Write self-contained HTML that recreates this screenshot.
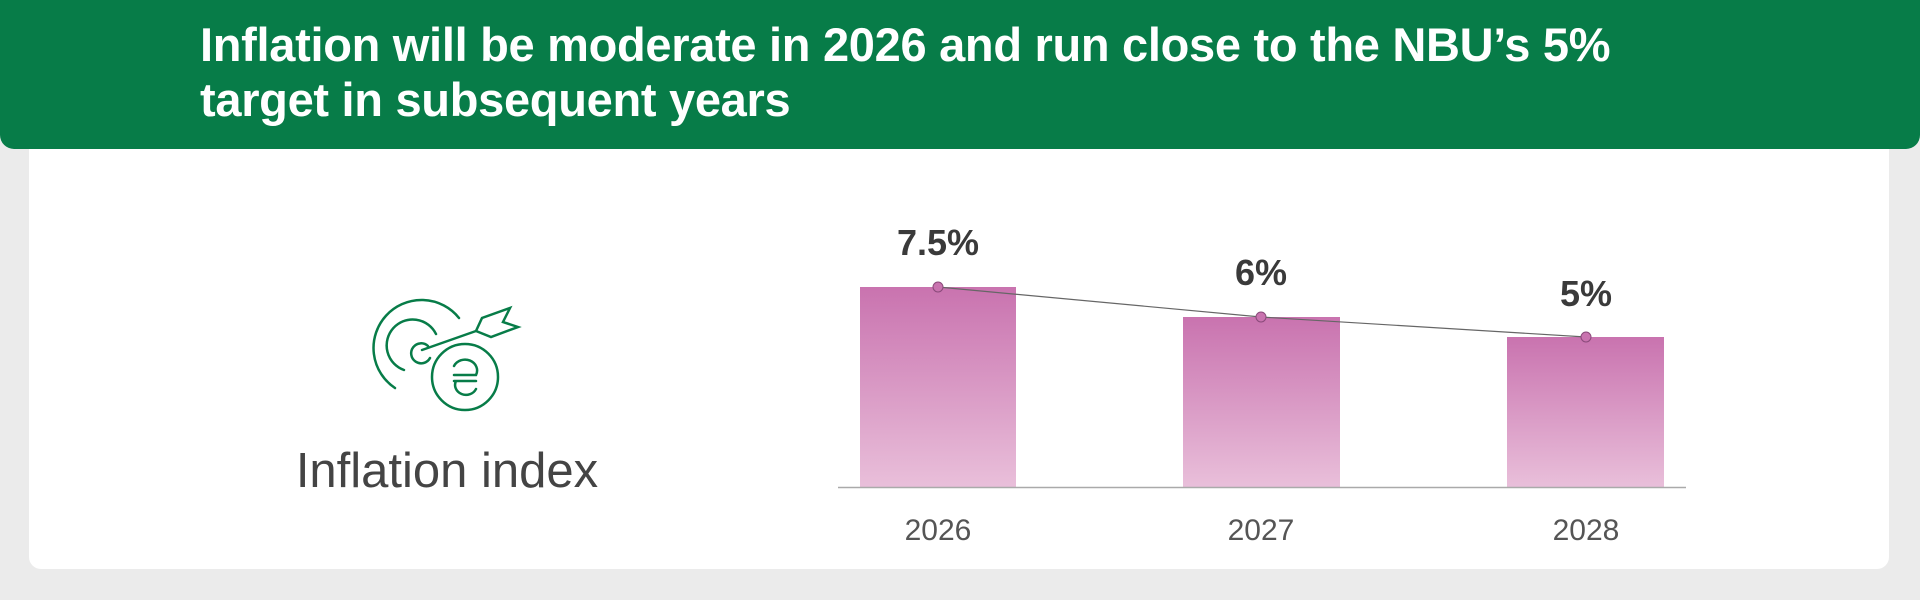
<!DOCTYPE html>
<html><head><meta charset="utf-8"><style>
html,body{margin:0;padding:0;}
body{width:1920px;height:600px;background:#ebebeb;position:relative;overflow:hidden;font-family:"Liberation Sans",sans-serif;}
.card{position:absolute;left:29px;top:120px;width:1860px;height:449px;background:#fff;border-radius:12px;}
.hdr{position:absolute;left:0;top:0;width:1920px;height:149px;background:#077c48;border-radius:0 0 14px 14px;}
.title{position:absolute;left:200px;top:17px;color:#fff;font-weight:bold;font-size:47px;line-height:55px;letter-spacing:-0.3px;white-space:nowrap;}
</style></head><body>
<div class="card"></div>
<div class="hdr"></div>
<div class="title">Inflation will be moderate in 2026 and run close to the NBU’s 5%<br>target in subsequent years</div>
<svg width="1920" height="600" style="position:absolute;left:0;top:0">
<defs><linearGradient id="g" x1="0" y1="0" x2="0" y2="1"><stop offset="0" stop-color="#c973af"/><stop offset="1" stop-color="#e9bfda"/></linearGradient></defs>
<g fill="none" stroke="#077c48" stroke-width="2.5" stroke-linecap="round">
<path d="M459 318 A48 48 0 1 0 395 388"/>
<path d="M436 334 A26 26 0 1 0 404 370"/>
<path d="M428 346 A10 10 0 1 0 430 358"/>
<circle cx="465" cy="377" r="33"/>
<path d="M422 350 L476 331"/>
<path d="M476 331 L482 318 L510 308 L503 322 L518 327 L491 337 Z"/>
<path d="M454 366 A10 9 0 1 1 476 375 L454 375 M454 381 L476 381 M456 381 A10 9 0 0 0 476 389"/>
</g>
<text x="447" y="487" text-anchor="middle" font-size="49" fill="#444" font-family="Liberation Sans">Inflation index</text>
<rect x="860" y="287" width="156" height="200" fill="url(#g)"/>
<rect x="1183" y="317" width="157" height="170" fill="url(#g)"/>
<rect x="1507" y="337" width="157" height="150" fill="url(#g)"/>
<line x1="838" y1="487.5" x2="1686" y2="487.5" stroke="#aaa" stroke-width="1.5"/>
<polyline points="938,287 1261,317 1586,337" fill="none" stroke="#666" stroke-width="1.2"/>
<g fill="#c973af" stroke="#8a4a7a" stroke-width="1"><circle cx="938" cy="287" r="5"/><circle cx="1261" cy="317" r="5"/><circle cx="1586" cy="337" r="5"/></g>
<g font-weight="bold" font-size="36" fill="#3a3a3a" text-anchor="middle"><text x="938" y="255">7.5%</text><text x="1261" y="285">6%</text><text x="1586" y="306">5%</text></g>
<g font-size="30" fill="#555" text-anchor="middle"><text x="938" y="540">2026</text><text x="1261" y="540">2027</text><text x="1586" y="540">2028</text></g>
</svg>
</body></html>
